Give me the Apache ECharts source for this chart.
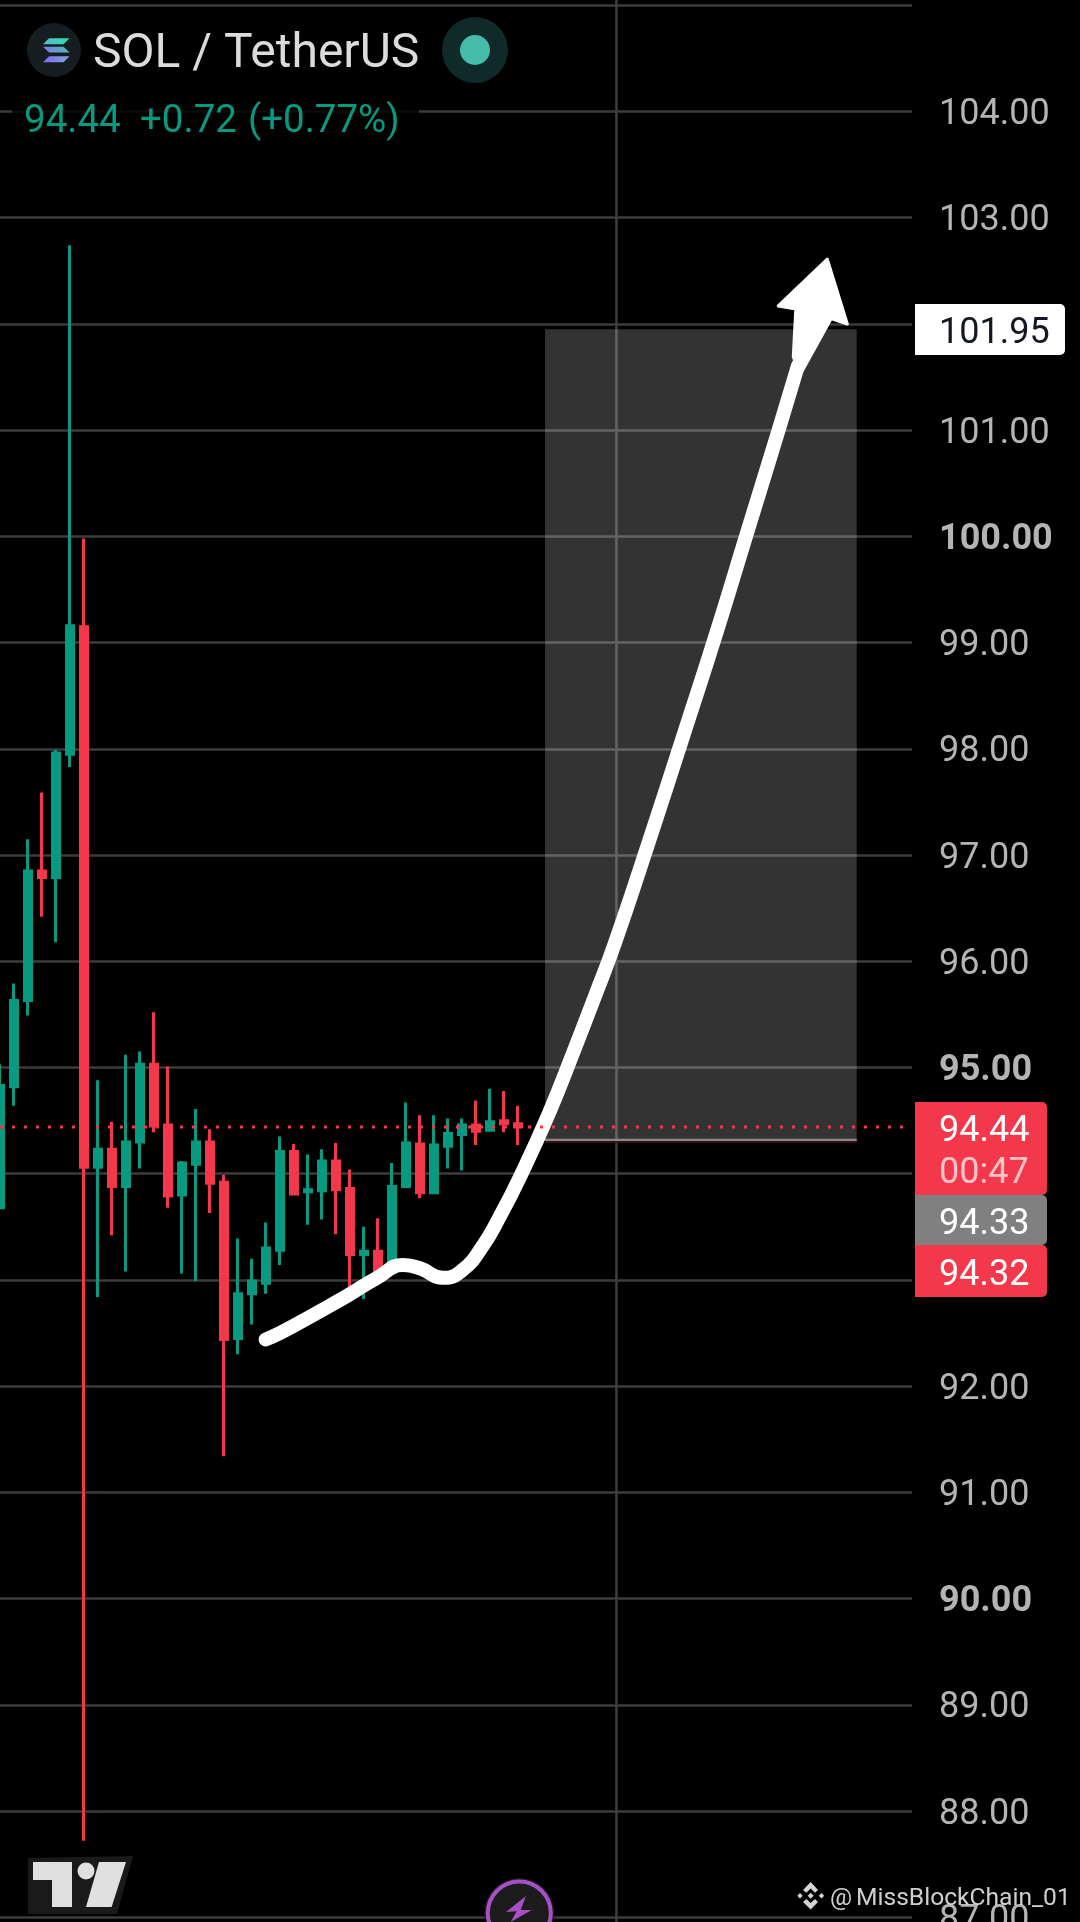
<!DOCTYPE html>
<html>
<head>
<meta charset="utf-8">
<style>html,body{margin:0;padding:0;background:#000}#c{width:1080px;height:1922px}</style>
<script src="https://cdn.jsdelivr.net/npm/echarts@6/dist/echarts.min.js"></script>
</head>
<body>
<div id="c"></div>
<script>
var opens  = [93.68,94.82,95.63,96.85,96.79,97.95,99.15,94.06,94.23,93.88,94.30,95.03,94.46,93.80,94.09,94.30,93.92,92.45,92.87,92.97,93.28,94.21,93.83,93.84,94.12,93.86,93.24,93.27,93.07,93.88,94.28,93.82,94.26,94.37,94.46,94.41,94.50,94.47];
var closes = [94.83,95.63,96.85,96.79,97.96,99.16,94.06,94.23,93.88,94.30,95.03,94.45,93.79,94.10,94.30,93.91,92.44,92.87,92.99,93.30,94.21,93.81,93.85,94.12,93.85,93.24,93.27,93.06,93.88,94.29,93.82,94.27,94.38,94.46,94.40,94.49,94.47,94.44];
var lows   = [93.67,94.64,95.49,96.42,96.18,97.83,87.72,92.84,93.42,93.08,94.05,94.39,93.68,93.06,92.99,93.63,91.34,92.30,92.58,92.87,93.14,93.81,93.52,93.57,93.43,92.90,92.82,93.00,93.07,93.88,93.77,93.82,94.05,94.03,94.27,94.41,94.39,94.27];
var highs  = [95.03,95.79,97.15,97.59,97.99,102.74,99.98,94.88,94.49,95.12,95.15,95.52,95.01,94.12,94.61,94.42,93.99,93.39,93.20,93.54,94.35,94.28,94.18,94.23,94.29,94.04,93.50,93.58,94.10,94.67,94.55,94.55,94.52,94.52,94.69,94.80,94.78,94.64];

var curveBars   = [18.97,20.00,22.36,24.79,26.93,28.79,30.00,31.64,33.00,34.43,35.71,37.14,39.21,41.00,42.46,43.89,46.43,48.82,51.14,53.21,55.61,57.00];
var curvePrices = [92.44,92.50,92.67,92.85,93.02,93.14,93.11,93.02,93.09,93.31,93.60,93.97,94.57,95.16,95.66,96.16,97.16,98.13,99.08,99.97,101.00,101.61];
var headBars    = [59.09,60.52,59.36,57.19,56.66,56.84,55.59];
var headPrices  = [102.61,102.00,102.05,101.53,101.69,102.14,102.17];

var boxBars   = [38.93,61.19];
var boxPrices = [94.32,101.95];
var lastPrice = 94.44, crosshairBar = 44.03, dottedEndBar = 64.64;
var barMin = 0, barMax = 65.14, priceMin = 87, priceMax = 105;
var boldPrices = [100,95,90];

var symbolText = 'SOL / TetherUS';
var quoteTexts = ['94.44','+0.72','(+0.77%)'];
var targetTag = '101.95', lastTag = '94.44', countdownTag = '00:47', greyTag = '94.33', bidTag = '94.32';
var watermark = 'MissBlockChain_01';

var GREEN='#089981', RED='#f4384c', FONT='Roboto';
var candles = opens.map(function(o,i){return [i,o,closes[i],lows[i],highs[i]];});
var curve = curveBars.map(function(b,i){return [b,curvePrices[i]];});
var head = headBars.map(function(b,i){return [b,headPrices[i]];});

function poly(points,fill,extra){
  var e={type:'polygon',z:100,silent:true,shape:{points:points},style:{fill:fill}};
  if(extra){for(var k in extra){e.style[k]=extra[k];}}
  return e;
}
function txt(x,y,text,size,color,weight,family){
  return {type:'text',z:102,silent:true,x:x,y:y,style:{text:text,fill:color,font:(weight||'normal')+' '+size+'px '+(family||FONT),textVerticalAlign:'middle',textAlign:'left'}};
}
function tag(x,y,w,h,fill,r){
  return {type:'rect',z:101,silent:true,shape:{x:x,y:y,width:w,height:h,r:r||[0,5,5,0]},style:{fill:fill}};
}
function grad(c0,c1){return {type:'linear',x:0,y:0,x2:1,y2:0,colorStops:[{offset:0,color:c0},{offset:1,color:c1}]};}

var graphics = [
  {type:'circle',z:100,silent:true,shape:{cx:54,cy:50,r:27},style:{fill:'#161d20'}},
  poly([[49,38.3],[69.5,38.3],[63.5,44.3],[43,44.3]],grad('#58b8c8','#2be4ae')),
  poly([[43,46.7],[63.5,46.7],[69.5,52.5],[49,52.5]],grad('#7d78e8','#4fc0b0')),
  poly([[49,56.3],[69.5,56.3],[63.5,62.3],[43,62.3]],grad('#7c68ee','#7fa8e0')),
  txt(93,54.5,symbolText,48,'#dcdcdc'),
  {type:'circle',z:100,silent:true,shape:{cx:475,cy:50,r:33},style:{fill:'#0f2a29'}},
  {type:'circle',z:100,silent:true,shape:{cx:475,cy:50,r:15},style:{fill:'#45bcaa'}},
  {type:'rect',z:99,silent:true,shape:{x:12,y:92,width:407,height:44},style:{fill:'rgba(0,0,0,0.82)'}},
  txt(24,122,quoteTexts[0],38.5,GREEN),
  txt(140,122,quoteTexts[1],38.5,GREEN),
  txt(248,122,quoteTexts[2],38.5,GREEN),

  tag(915,304,150,51,'#ffffff'),
  txt(939,333.5,targetTag,36,'#131722'),
  tag(915,1102,132,93,RED),
  txt(939,1131.5,lastTag,36,'#ffffff'),
  txt(939,1173.5,countdownTag,36,'rgba(255,255,255,0.7)'),
  tag(915,1195,132,50,'#808080'),
  txt(939,1224.5,greyTag,36,'#ffffff'),
  tag(915,1245,132,52,RED),
  txt(939,1275.5,bidTag,36,'#ffffff'),

  poly([[28,1858],[133,1856],[117,1914],[28,1914]],'#1a1a1a'),
  poly([[33,1862],[72,1862],[72,1907],[52,1907],[52,1880],[33,1880]],'#e0e0e0'),
  {type:'circle',z:100,silent:true,shape:{cx:86,cy:1871,r:8.5},style:{fill:'#e0e0e0'}},
  poly([[99,1862],[126,1862],[111.6,1907],[86,1907]],'#e0e0e0'),

  {type:'circle',z:100,silent:true,shape:{cx:519.3,cy:1913,r:35},style:{fill:'#1c1c1c'}},
  {type:'circle',z:100,silent:true,shape:{cx:519.3,cy:1913,r:31.5},style:{fill:'#1c1c1c',stroke:'#a64fc6',lineWidth:4}},
  poly([[526,1896],[506,1912],[516.7,1911.3],[510.7,1922],[531.7,1910],[520.7,1910]],'#a64fc6'),

  poly([[810.7,1882],[818,1890],[815,1892.7],[810.7,1888.5],[806.4,1892.7],[803,1890]],'#d5d5d5'),
  poly([[810.7,1909.5],[818,1902],[815,1899],[810.7,1903],[806.4,1899],[803,1902]],'#d5d5d5'),
  poly([[810.7,1892.7],[813.7,1895.7],[810.7,1898.7],[807.7,1895.7]],'#d5d5d5'),
  poly([[800,1893],[802.7,1895.7],[800,1898.4],[797.3,1895.7]],'#d5d5d5'),
  poly([[821.5,1893],[824.2,1895.7],[821.5,1898.4],[818.8,1895.7]],'#d5d5d5'),
  txt(830,1899,'@',24.6,'#cfcfcf'),
  txt(856,1899,watermark,24.6,'#cfcfcf')
];

var chart = echarts.init(document.getElementById('c'));
chart.setOption({
  animation:false,
  backgroundColor:'#000000',
  grid:{left:0,top:5.3,width:912,height:1912,outerBoundsMode:'none'},
  xAxis:{type:'value',min:barMin,max:barMax,show:false,splitLine:{show:false}},
  yAxis:{
    type:'value',position:'right',min:priceMin,max:priceMax,interval:1,
    axisLine:{show:false},axisTick:{show:false},
    splitLine:{show:true,lineStyle:{color:'#3c3c3c',width:2.6}},
    axisLabel:{
      margin:27,align:'left',color:'#b4b4b4',fontFamily:FONT,fontSize:36,showMinLabel:true,showMaxLabel:false,
      padding:[7,0,0,0],
      formatter:function(v){
        if(v>=priceMax){return '';}
        var s=v.toFixed(2);
        return boldPrices.indexOf(v)>=0?'{b|'+s+'}':s;
      },
      rich:{b:{fontFamily:FONT,fontSize:36,fontWeight:'bold',color:'#b4b4b4'}}
    }
  },
  graphic:graphics,
  series:[
    {type:'line',z:1,silent:true,clip:false,showSymbol:false,data:[[crosshairBar,priceMax+0.1],[crosshairBar,priceMin-0.1]],lineStyle:{color:'#3c3c3c',width:2.6}},
    {type:'custom',z:2,silent:true,clip:false,data:[[boxBars[0],boxPrices[1],boxBars[1],boxPrices[0]]],
      encode:{x:[0,2],y:[1,3]},
      renderItem:function(p,api){
        var a=api.coord([api.value(0),api.value(1)]),b=api.coord([api.value(2),api.value(3)]);
        return {type:'group',children:[
          {type:'rect',shape:{x:a[0],y:a[1],width:b[0]-a[0],height:b[1]-a[1]},style:{fill:'rgba(255,255,255,0.2)'}},
          {type:'rect',shape:{x:a[0],y:b[1]-1,width:b[0]-a[0],height:2.6},style:{fill:'#8e8686'}},
          {type:'rect',shape:{x:a[0],y:b[1]+1.6,width:b[0]-a[0],height:1.6},style:{fill:'#3a0c12'}}
        ]};
      }},
    {type:'candlestick',z:3,silent:true,barWidth:8,data:candles,encode:{x:0,y:[1,2,3,4]},
      itemStyle:{color:GREEN,color0:RED,borderColor:GREEN,borderColor0:RED,borderWidth:3}},
    {type:'line',z:5,silent:true,clip:false,smooth:0.5,showSymbol:false,data:curve,
      lineStyle:{color:'#ffffff',width:14,cap:'round',join:'round'}},
    {type:'custom',z:6,silent:true,clip:false,data:head,encode:{x:0,y:1},
      renderItem:function(p,api){
        if(p.dataIndex!==0){return;}
        var pts=head.map(function(d){return api.coord(d);});
        return {type:'polygon',shape:{points:pts},style:{fill:'#ffffff',stroke:'#ffffff',lineWidth:3,lineJoin:'round'}};
      }},
    {type:'line',z:7,silent:true,clip:false,showSymbol:false,data:[[barMin,lastPrice],[dottedEndBar,lastPrice]],
      lineStyle:{color:RED,width:3,type:[3,9]}}
  ]
});
</script>
</body>
</html>
